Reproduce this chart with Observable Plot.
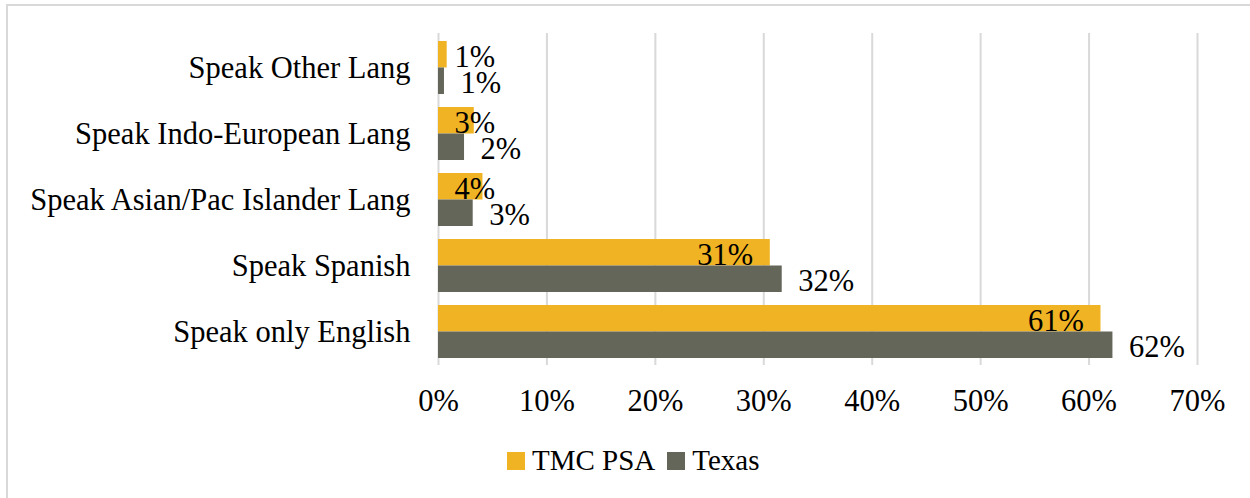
<!DOCTYPE html>
<html>
<head>
<meta charset="utf-8">
<script src="https://cdn.jsdelivr.net/npm/d3@7"></script>
<script src="https://cdn.jsdelivr.net/npm/@observablehq/plot@0.6"></script>
<style>
  html, body { margin: 0; padding: 0; background: #fff; }
  #wrap { position: relative; width: 1250px; height: 498px; overflow: hidden; font-family: "Liberation Serif", serif; }
  #frame { position: absolute; left: 6px; top: 4px; width: 1400px; height: 700px; border: 2px solid #d9d9d9; box-sizing: border-box; pointer-events: none; }
  #chart { position: absolute; left: 0; top: 0; }
  #legend { position: absolute; left: 507px; top: 444px; display: flex; align-items: center; font-size: 29px; color: #000; }
  .item { display: flex; align-items: center; margin-right: 12px; }
  .sw { width: 18px; height: 18px; margin-right: 7px; }
</style>
</head>
<body>
<div id="wrap">
  <div id="frame"></div>
  <div id="chart"></div>
  <div id="legend"></div>
</div>
<script>
const categories = ["Speak Other Lang", "Speak Indo-European Lang", "Speak Asian/Pac Islander Lang", "Speak Spanish", "Speak only English"];
const seriesNames = ["TMC PSA", "Texas"];
const tmcValues = [0.008, 0.033, 0.041, 0.306, 0.611];
const texasValues = [0.0055, 0.024, 0.032, 0.317, 0.622];
const xTicks = [0, 0.1, 0.2, 0.3, 0.4, 0.5, 0.6, 0.7];
const colors = ["#F0B323", "#64665A"];

const fmt = d3.format(".0%");
const tmcData = categories.map((c, i) => ({cat: c, series: seriesNames[0], v: tmcValues[i]}));
const texasData = categories.map((c, i) => ({cat: c, series: seriesNames[1], v: texasValues[i]}));

const chart = Plot.plot({
  width: 1250,
  height: 430,
  marginLeft: 438,
  marginRight: 53,
  marginTop: 33,
  marginBottom: 65,
  style: {fontFamily: "'Liberation Serif', serif", fontSize: "30.5px", color: "#000", background: "transparent"},
  x: {domain: [0, 0.7], ticks: xTicks, tickFormat: fmt, tickSize: 0, tickPadding: 24, label: null},
  y: {domain: categories, paddingInner: 0.2, paddingOuter: 0.1, tickSize: 0, tickPadding: 28, label: null},
  marks: [
    Plot.ruleX(xTicks, {stroke: "#d9d9d9", strokeWidth: 2}),
    Plot.barX(tmcData, {x: "v", y: "cat", fill: colors[0], insetBottom: 26.5}),
    Plot.barX(texasData, {x: "v", y: "cat", fill: colors[1], insetTop: 26.5}),
    Plot.text(tmcData, {x: d => Math.max(d.v, 0.068), y: "cat", text: d => fmt(d.v), textAnchor: "end", dx: -17, dy: -10.5, fill: "#000"}),
    Plot.text(texasData, {x: "v", y: "cat", text: d => fmt(d.v), textAnchor: "start", dx: 16, dy: 15, fill: "#000"})
  ]
});
document.getElementById("chart").appendChild(chart);

const legend = document.getElementById("legend");
seriesNames.forEach((name, i) => {
  const item = document.createElement("div");
  item.className = "item";
  const sw = document.createElement("div");
  sw.className = "sw";
  sw.style.background = colors[i];
  const label = document.createElement("span");
  label.textContent = name;
  item.appendChild(sw);
  item.appendChild(label);
  legend.appendChild(item);
});
</script>
</body>
</html>
